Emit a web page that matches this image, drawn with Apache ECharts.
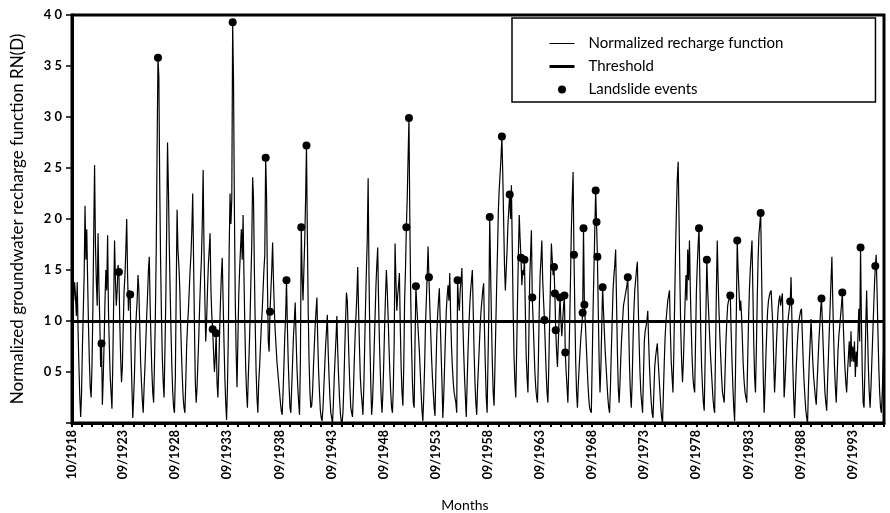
<!DOCTYPE html>
<html>
<head>
<meta charset="utf-8">
<title>Normalized groundwater recharge function</title>
<script src="https://cdn.jsdelivr.net/npm/echarts@6/dist/echarts.min.js"></script>
<style>
  html, body { margin: 0; padding: 0; background: #fff; }
  #chart { width: 890px; height: 513px; }
</style>
</head>
<body>
<div id="chart"></div>
<script>
// Monthly values, one row per hydrological year (Oct..Sep), 10/1918 - 09/1996.
var rechargeRows = [
  [1.30, 1.55, 1.20, 1.38, 1.25, 1.05, 1.38, 0.90, 0.55, 0.25, 0.06, 0.30], // 1918-19
  [0.75, 1.10, 1.45, 2.13, 1.60, 1.90, 1.40, 0.95, 0.60, 0.35, 0.25, 0.55],
  [1.10, 1.85, 2.53, 1.75, 1.40, 1.15, 1.86, 1.35, 1.00, 0.55, 0.78, 0.18],
  [0.45, 0.80, 1.20, 1.50, 1.30, 1.84, 1.10, 0.75, 0.45, 0.30, 0.14, 0.60],
  [1.20, 1.79, 1.40, 1.15, 1.30, 1.55, 1.48, 1.00, 0.65, 0.40, 0.55, 0.95],
  [1.30, 1.45, 1.70, 2.00, 1.45, 1.10, 1.30, 1.26, 0.70, 0.35, 0.05, 0.25], // 1923-24
  [0.50, 0.85, 1.05, 1.20, 1.45, 1.30, 0.95, 0.60, 0.40, 0.22, 0.10, 0.35],
  [0.55, 0.80, 1.05, 1.25, 1.50, 1.63, 1.15, 0.80, 0.50, 0.30, 0.20, 0.60],
  [1.05, 1.70, 2.70, 3.58, 3.40, 2.35, 1.60, 1.05, 0.65, 0.40, 0.25, 0.70],
  [1.20, 1.90, 2.75, 2.30, 1.75, 1.30, 0.90, 0.55, 0.30, 0.15, 0.10, 0.45],
  [1.30, 2.09, 1.70, 1.55, 1.35, 1.00, 0.70, 0.45, 0.25, 0.15, 0.10, 0.40], // 1928-29
  [0.75, 0.95, 1.10, 1.30, 1.50, 1.65, 1.90, 2.25, 1.60, 0.95, 0.40, 0.20],
  [0.35, 0.60, 0.85, 1.15, 1.40, 1.60, 1.95, 2.48, 1.70, 1.20, 0.80, 1.00],
  [1.30, 1.55, 1.70, 1.86, 1.30, 1.05, 0.92, 0.70, 0.50, 0.65, 0.88, 0.40],
  [0.25, 0.55, 0.90, 1.20, 1.45, 1.62, 1.20, 0.80, 0.45, 0.20, 0.03, 0.35],
  [0.85, 1.70, 2.25, 1.95, 2.20, 3.93, 3.35, 2.10, 1.20, 0.70, 0.35, 0.80], // 1933-34
  [1.25, 1.50, 1.70, 1.90, 1.60, 2.04, 1.45, 0.95, 0.55, 0.30, 0.15, 0.45],
  [0.70, 1.00, 1.40, 1.75, 2.41, 2.20, 1.50, 0.95, 0.50, 0.25, 0.10, 0.40],
  [0.55, 0.75, 0.95, 1.10, 1.30, 1.50, 1.65, 2.60, 2.25, 1.40, 0.80, 0.70],
  [1.09, 1.30, 1.50, 1.77, 1.40, 1.10, 0.90, 0.75, 0.60, 0.50, 0.40, 0.30],
  [0.20, 0.12, 0.08, 0.30, 0.55, 0.85, 1.05, 1.40, 0.95, 0.60, 0.35, 0.15], // 1938-39
  [0.10, 0.35, 0.60, 0.85, 1.00, 1.18, 0.85, 0.55, 0.35, 0.20, 0.08, 0.60],
  [1.92, 1.45, 1.20, 1.50, 1.80, 2.20, 2.72, 1.85, 1.10, 0.60, 0.30, 0.15],
  [0.17, 0.30, 0.55, 0.75, 0.95, 1.10, 1.23, 0.80, 0.50, 0.30, 0.12, 0.05],
  [0.02, 0.15, 0.35, 0.55, 0.75, 0.90, 1.06, 0.70, 0.45, 0.25, 0.10, 0.05],
  [0.00, 0.20, 0.45, 0.65, 0.83, 1.05, 0.70, 0.45, 0.25, 0.10, 0.02, 0.00], // 1943-44
  [0.10, 0.35, 0.70, 1.00, 1.28, 1.20, 0.90, 0.60, 0.35, 0.15, 0.10, 0.06],
  [0.30, 0.60, 0.85, 1.05, 1.25, 1.53, 1.10, 0.75, 0.45, 0.30, 0.20, 0.08],
  [0.35, 0.75, 1.15, 1.50, 1.80, 2.40, 1.45, 0.80, 0.40, 0.08, 0.20, 0.45],
  [0.75, 1.05, 1.35, 1.55, 1.72, 1.20, 0.80, 0.50, 0.25, 0.10, 0.30, 0.60],
  [0.95, 1.25, 1.50, 1.30, 1.05, 0.75, 0.50, 0.30, 0.15, 0.10, 0.35, 0.80], // 1948-49
  [1.76, 1.40, 1.10, 1.25, 1.35, 1.47, 0.95, 0.55, 0.30, 0.17, 0.55, 1.20],
  [1.50, 1.92, 2.20, 2.60, 2.99, 2.00, 1.25, 0.75, 0.40, 0.20, 0.15, 0.80],
  [1.34, 1.15, 1.00, 0.85, 0.70, 0.50, 0.30, 0.12, 0.02, 0.25, 0.55, 0.95],
  [1.20, 1.45, 1.73, 1.43, 1.15, 0.90, 0.65, 0.45, 0.30, 0.15, 0.07, 0.50],
  [0.85, 1.05, 1.20, 1.32, 1.00, 0.70, 0.40, 0.05, 0.25, 0.55, 0.85, 1.10], // 1953-54
  [1.25, 1.35, 1.20, 1.47, 1.05, 0.75, 0.55, 0.40, 0.30, 0.25, 0.20, 0.10],
  [1.40, 1.20, 1.10, 1.30, 1.40, 1.52, 1.00, 0.70, 0.45, 0.25, 0.06, 0.40],
  [0.70, 0.95, 1.15, 1.30, 1.40, 1.50, 1.10, 0.70, 0.40, 0.20, 0.08, 0.35],
  [0.55, 0.75, 0.95, 1.10, 1.20, 1.30, 1.37, 0.90, 0.55, 0.25, 0.10, 0.60],
  [1.10, 2.02, 1.50, 1.00, 0.60, 0.30, 0.17, 0.55, 0.95, 1.35, 1.70, 2.10], // 1958-59
  [2.30, 2.45, 2.60, 2.81, 2.45, 2.00, 1.55, 1.30, 1.50, 1.70, 1.95, 2.10],
  [2.24, 2.00, 2.33, 1.70, 1.10, 0.65, 0.40, 0.25, 0.70, 1.20, 1.65, 2.04],
  [1.80, 1.62, 1.35, 1.50, 1.45, 1.60, 1.10, 0.65, 0.45, 0.30, 0.80, 1.40],
  [1.65, 1.89, 1.23, 1.00, 0.75, 0.50, 0.35, 0.25, 0.20, 0.60, 1.10, 1.45],
  [1.60, 1.79, 1.40, 1.20, 1.01, 0.75, 0.50, 0.30, 0.20, 0.55, 1.00, 1.40], // 1963-64
  [1.76, 1.60, 1.45, 1.53, 1.27, 0.91, 0.70, 0.55, 0.80, 1.05, 1.23, 1.00],
  [0.85, 1.00, 1.15, 1.25, 0.69, 0.50, 0.35, 0.20, 0.55, 0.95, 1.40, 1.90],
  [2.20, 2.46, 1.65, 1.10, 0.60, 0.30, 0.15, 0.38, 0.55, 0.70, 0.85, 0.95],
  [1.08, 1.91, 1.16, 1.00, 0.80, 0.60, 0.40, 0.25, 0.15, 0.12, 0.10, 0.60],
  [1.10, 1.50, 1.90, 2.28, 1.97, 1.63, 1.10, 0.60, 0.30, 0.55, 0.95, 1.33], // 1968-69
  [1.10, 0.90, 0.70, 0.55, 0.40, 0.25, 0.15, 0.10, 0.35, 0.70, 1.00, 1.30],
  [1.45, 1.55, 1.70, 1.20, 0.70, 0.35, 0.20, 0.40, 0.65, 0.85, 1.00, 1.15],
  [1.20, 1.25, 1.30, 1.35, 1.43, 0.95, 0.55, 0.30, 0.15, 0.40, 0.80, 1.10],
  [1.30, 1.40, 1.50, 1.58, 1.15, 0.80, 0.50, 0.30, 0.20, 0.10, 0.45, 0.80],
  [0.90, 0.95, 1.00, 1.10, 0.80, 0.55, 0.35, 0.20, 0.10, 0.05, 0.30, 0.55], // 1973-74
  [0.65, 0.72, 0.78, 0.60, 0.45, 0.30, 0.15, 0.05, 0.00, 0.30, 0.60, 0.85],
  [1.00, 1.10, 1.20, 1.25, 1.30, 0.90, 0.60, 0.45, 0.30, 0.70, 1.20, 1.70],
  [2.10, 2.40, 2.56, 2.00, 1.40, 0.90, 0.60, 0.40, 0.60, 0.90, 1.20, 1.45],
  [1.20, 1.70, 1.40, 1.79, 1.30, 0.95, 0.65, 0.45, 0.35, 0.30, 0.80, 1.30],
  [1.55, 1.75, 1.91, 1.40, 0.90, 0.55, 0.35, 0.20, 0.12, 0.60, 1.10, 1.60], // 1978-79
  [1.30, 1.10, 0.90, 0.70, 0.55, 0.40, 0.25, 0.15, 0.10, 0.70, 1.30, 1.79],
  [1.40, 1.10, 0.85, 0.65, 0.45, 0.30, 0.25, 0.20, 0.50, 0.80, 1.00, 1.15],
  [1.20, 1.22, 1.25, 0.90, 0.60, 0.35, 0.15, 0.02, 0.50, 1.10, 1.79, 1.50],
  [1.30, 1.10, 1.20, 1.05, 0.80, 0.55, 0.40, 0.30, 0.25, 0.20, 0.60, 1.00],
  [1.30, 1.50, 1.65, 1.79, 1.30, 0.80, 0.45, 0.30, 0.70, 1.20, 1.60, 1.85], // 1983-84
  [1.95, 2.06, 1.50, 0.90, 0.45, 0.10, 0.35, 0.65, 0.90, 1.10, 1.20, 1.25],
  [1.28, 1.30, 1.30, 0.95, 0.60, 0.30, 0.50, 0.75, 0.95, 1.10, 1.20, 1.25],
  [1.15, 1.22, 1.27, 0.80, 0.25, 0.40, 0.60, 0.80, 0.95, 1.05, 1.12, 1.19],
  [1.43, 1.00, 0.55, 0.25, 0.05, 0.30, 0.55, 0.75, 0.90, 1.00, 1.05, 1.10],
  [1.12, 0.85, 0.60, 0.40, 0.25, 0.12, 0.05, 0.00, 0.35, 0.60, 0.80, 1.02], // 1988-89
  [0.80, 0.60, 0.45, 0.35, 0.25, 0.18, 0.40, 0.60, 0.80, 0.95, 1.10, 1.22],
  [1.00, 0.75, 0.50, 0.30, 0.20, 0.12, 0.40, 0.65, 0.90, 1.15, 1.40, 1.63],
  [1.20, 0.85, 0.55, 0.35, 0.20, 0.45, 0.70, 0.85, 0.95, 1.05, 1.15, 1.28],
  [1.00, 0.75, 0.55, 0.40, 0.30, 0.50, 0.65, 0.80, 0.55, 0.90, 0.60, 0.75],
  [0.60, 0.80, 0.45, 0.70, 0.55, 0.85, 1.12, 0.80, 1.72, 1.00, 0.50, 0.20], // 1993-94
  [0.15, 0.50, 0.95, 1.30, 0.90, 0.55, 0.30, 0.15, 0.35, 0.60, 0.85, 1.10],
  [1.35, 1.54, 1.65, 1.30, 0.90, 0.55, 0.30, 0.15, 0.10, 0.30, 0.60, 0.80]  // 1995-96
];

// Landslide events, as month positions counted from 10/1918.
var eventMonths = [34, 54, 67, 99, 162, 166, 185, 223, 228, 247, 264, 270, 385, 388, 396,
  411, 444, 481, 495, 504, 517, 521, 530, 544, 555, 556, 557, 562, 567, 568, 578, 588,
  589, 590, 603, 604, 605, 611, 640, 722, 731, 758, 766, 793, 827, 863, 887, 908, 925];

var THRESHOLD = 1.0;
var yTicks = [0, 0.5, 1, 1.5, 2, 2.5, 3, 3.5, 4];

var recharge = [].concat.apply([], rechargeRows);

// month labels MM/YYYY starting at 10/1918
var months = [];
for (var i = 0; i < recharge.length; i++) {
  var m = (9 + i) % 12 + 1;
  var y = 1918 + Math.floor((9 + i) / 12);
  months.push((m < 10 ? '0' : '') + m + '/' + y);
}

var hidden = { color: 'rgba(0,0,0,0)', borderWidth: 0 };

var chart = echarts.init(document.getElementById('chart'));
chart.setOption({
  animation: false,
  backgroundColor: '#fff',
  textStyle: { fontFamily: 'Lato', color: '#000' },
  grid: {
    left: 72, right: 6, top: 15, bottom: 90,
    outerBoundsMode: 'none',
    show: true, borderColor: '#000', borderWidth: 3
  },
  legend: {
    orient: 'vertical',
    left: 512, top: 18,
    padding: [18, 92, 5, 36],
    itemWidth: 25, itemHeight: 8, itemGap: 8,
    borderColor: '#000', borderWidth: 1.5,
    backgroundColor: '#fff',
    textStyle: { fontFamily: 'Lato', fontSize: 15, color: '#000', padding: [0, 0, 0, 9] },
    data: [
      { name: 'Normalized recharge function', itemStyle: hidden, lineStyle: { width: 1 } },
      { name: 'Threshold', itemStyle: hidden, lineStyle: { width: 3 } },
      { name: 'Landslide events' }
    ]
  },
  xAxis: {
    type: 'category',
    data: months,
    boundaryGap: false,
    name: 'Months',
    nameLocation: 'middle',
    nameGap: 75,
    nameTextStyle: { fontFamily: 'Lato', fontSize: 14, color: '#000', padding: [0, 26, 0, 0] },
    axisLine: { lineStyle: { color: '#000', width: 3 } },
    axisTick: {
      alignWithLabel: true,
      length: 4,
      lineStyle: { color: '#000', width: 2 },
      interval: function (idx) { return (idx + 1) % 12 === 0 || idx === 0; }
    },
    axisLabel: {
      rotate: 90,
      margin: 7,
      fontFamily: 'Lato', fontSize: 12.5, fontWeight: 'bold', color: '#000',
      interval: function (idx) { return idx === 0 || (idx + 1) % 60 === 0; }
    },
    splitLine: { show: false }
  },
  yAxis: {
    type: 'value',
    min: yTicks[0], max: yTicks[yTicks.length - 1], interval: 0.5,
    name: 'Normalized groundwater recharge function RN(D)',
    nameLocation: 'middle',
    nameGap: 46,
    nameTextStyle: { fontFamily: 'Lato', fontSize: 17, color: '#000' },
    axisLine: { show: true, lineStyle: { color: '#000', width: 3 } },
    axisTick: { show: true, length: 6, lineStyle: { color: '#000', width: 1.5 } },
    axisLabel: {
      margin: 10,
      fontFamily: 'Lato', fontSize: 13, fontWeight: 'bold', color: '#000',
      formatter: function (v) { return v === 0 ? '' : v.toFixed(1).replace('.', ' '); }
    },
    splitLine: { show: false }
  },
  series: [
    {
      name: 'Normalized recharge function',
      type: 'line',
      data: recharge,
      symbol: 'none',
      lineStyle: { color: '#000', width: 1.2 },
      itemStyle: { color: '#000' },
      z: 2
    },
    {
      name: 'Threshold',
      type: 'line',
      data: [],
      symbol: 'none',
      lineStyle: { color: '#000', width: 3 },
      itemStyle: { color: '#000' },
      markLine: {
        silent: true,
        symbol: 'none',
        label: { show: false },
        lineStyle: { color: '#000', width: 3, type: 'solid' },
        data: [{ yAxis: THRESHOLD }]
      },
      z: 3
    },
    {
      name: 'Landslide events',
      type: 'scatter',
      data: eventMonths.map(function (i) { return [months[i], recharge[i]]; }),
      symbol: 'circle',
      symbolSize: 8,
      itemStyle: { color: '#000', opacity: 1 },
      z: 4
    }
  ]
});
</script>
</body>
</html>
